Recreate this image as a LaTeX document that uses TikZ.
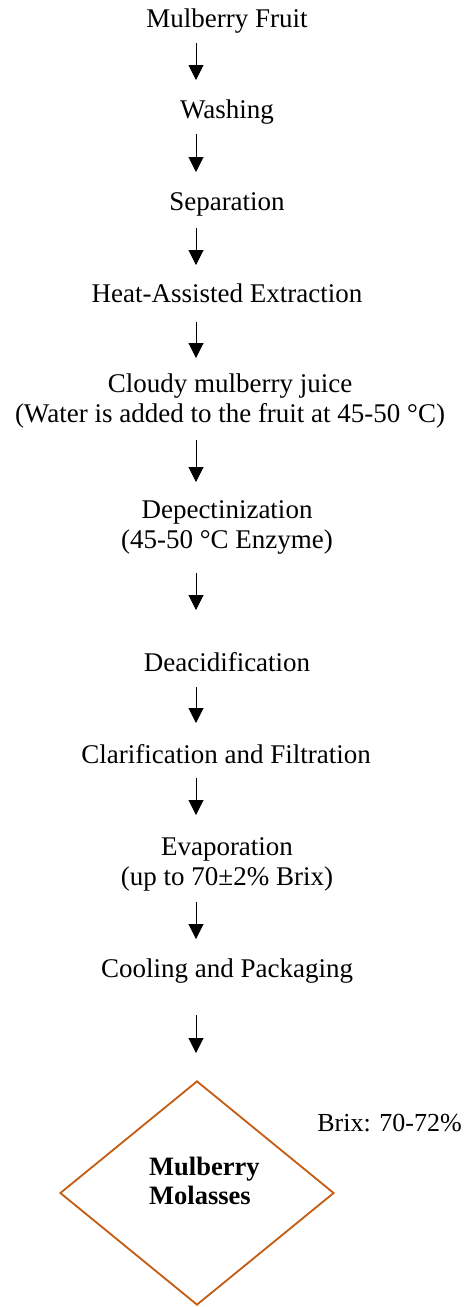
\documentclass[tikz,border=0pt]{standalone}
\usepackage{fontspec}
\setmainfont{Liberation Serif}
\usetikzlibrary{arrows.meta,shapes.geometric}
\definecolor{diamondorange}{HTML}{C55A11}
\begin{document}
\begin{tikzpicture}[x=1pt,y=-1pt,
  stepbox/.style={anchor=base,inner sep=0pt,align=center,font=\fontsize{27}{29.5}\selectfont},
  arr/.style={line width=1pt,-{Triangle[width=15pt,length=15pt]}}]
\useasboundingbox (0,0) rectangle (464,1307);
\node[stepbox] (fruit) at (227,27) {Mulberry Fruit};
\node[stepbox] (wash) at (227,118) {Washing};
\node[stepbox] (sep) at (227,210) {Separation};
\node[stepbox] (heat) at (227,302) {Heat-Assisted Extraction};
\node[stepbox] (cloudy) at (230,422) {Cloudy mulberry juice\\(Water is added to the fruit at 45-50 \textdegree C)};
\node[stepbox] (depect) at (227,548) {Depectinization\\(45-50 \textdegree C Enzyme)};
\node[stepbox] (deacid) at (227,671) {Deacidification};
\node[stepbox] (clar) at (226,763) {Clarification and Filtration};
\node[stepbox] (evap) at (227,885) {Evaporation\\(up to 70\textpm 2\% Brix)};
\node[stepbox] (cool) at (227,977) {Cooling and Packaging};
\node[draw=diamondorange,line width=1.8pt,diamond,minimum width=274pt,minimum height=224pt,inner sep=0pt] (mol) at (197,1193) {};
\node[anchor=base west,inner sep=0pt,align=left,font=\fontsize{26.5}{29}\selectfont\bfseries] (moltext) at (149,1204) {Mulberry\\Molasses};
\node[anchor=base east,inner sep=0pt,font=\fontsize{26}{29}\selectfont] (brix) at (462,1131) {Brix: 70-72\%};
\coordinate (a1s) at (196,43);   \coordinate (a1e) at (196,80);
\coordinate (a2s) at (196,134);  \coordinate (a2e) at (196,172);
\coordinate (a3s) at (196,228);  \coordinate (a3e) at (196,265);
\coordinate (a4s) at (196,322);  \coordinate (a4e) at (196,358);
\coordinate (a5s) at (196,440);  \coordinate (a5e) at (196,482);
\coordinate (a6s) at (196,573);  \coordinate (a6e) at (196,610);
\coordinate (a7s) at (196,687);  \coordinate (a7e) at (196,723);
\coordinate (a8s) at (196,778);  \coordinate (a8e) at (196,815);
\coordinate (a9s) at (196,902);  \coordinate (a9e) at (196,939);
\coordinate (a10s) at (196,1015); \coordinate (a10e) at (196,1053);
\foreach \i in {1,...,10} {\draw[arr] (a\i s) -- (a\i e);}
\end{tikzpicture}
\end{document}
